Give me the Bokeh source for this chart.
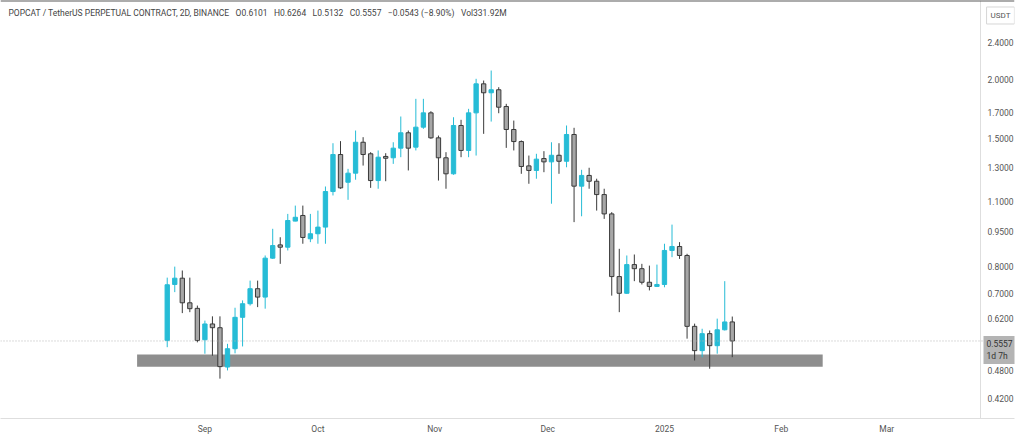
import pandas as pd
from bokeh.plotting import figure
from bokeh.models import FixedTicker, NumeralTickFormatter, Label, Span, Range1d, CustomJSTickFormatter, ColumnDataSource
from bokeh.embed import file_html
from bokeh.resources import INLINE

# ---------------- data ----------------
start_date = "2024-08-22"   # first 2D bar
bar_step_days = 2
opens = [0.557, 0.733, 0.756, 0.670, 0.652, 0.559, 0.604, 0.593, 0.489, 0.535,
         0.624, 0.667, 0.718, 0.689, 0.834, 0.890, 0.880, 1.000, 1.028, 0.917,
         0.940, 0.971, 1.156, 1.386, 1.210, 1.265, 1.472, 1.391, 1.220, 1.373,
         1.364, 1.430, 1.542, 1.437, 1.585, 1.700, 1.504, 1.364, 1.261, 1.598,
         1.414, 1.700, 1.960, 1.876, 1.904, 1.754, 1.567, 1.477, 1.311, 1.282,
         1.359, 1.337, 1.381, 1.341, 1.529, 1.187, 1.251, 1.216, 1.139, 1.036,
         0.762, 0.702, 0.808, 0.792, 0.741, 0.726, 0.733, 0.866, 0.883, 0.845,
         0.597, 0.530, 0.576, 0.543, 0.587, 0.6101]
highs = [0.758, 0.800, 0.785, 0.758, 0.661, 0.614, 0.627, 0.627, 0.548, 0.654,
         0.678, 0.747, 0.747, 0.845, 0.963, 0.924, 1.036, 1.079, 1.079, 1.036,
         1.053, 1.185, 1.465, 1.480, 1.292, 1.559, 1.509, 1.402, 1.414, 1.395,
         1.472, 1.670, 1.559, 1.821, 1.821, 1.714, 1.521, 1.402, 1.664, 1.643,
         1.734, 2.009, 1.992, 2.092, 1.928, 1.777, 1.637, 1.485, 1.379, 1.391,
         1.409, 1.472, 1.465, 1.598, 1.580, 1.286, 1.299, 1.231, 1.172, 1.045,
         0.873, 0.845, 0.849, 0.811, 0.804, 0.808, 0.895, 0.983, 0.902, 0.852,
         0.605, 0.590, 0.585, 0.620, 0.745, 0.6264]
lows = [0.539, 0.706, 0.637, 0.640, 0.552, 0.522, 0.517, 0.462, 0.481, 0.523,
        0.541, 0.661, 0.656, 0.651, 0.831, 0.811, 0.866, 0.999, 0.895, 0.902,
        0.895, 0.895, 1.134, 1.172, 1.110, 1.225, 1.313, 1.177, 1.172, 1.216,
        1.324, 1.368, 1.282, 1.414, 1.572, 1.497, 1.220, 1.172, 1.255, 1.368,
        1.368, 1.379, 1.534, 1.629, 1.697, 1.432, 1.414, 1.261, 1.201, 1.231,
        1.271, 1.089, 1.261, 1.302, 0.995, 1.024, 1.172, 1.053, 1.011, 0.694,
        0.640, 0.700, 0.745, 0.733, 0.712, 0.724, 0.723, 0.838, 0.831, 0.562,
        0.505, 0.513, 0.485, 0.522, 0.585, 0.5132]
closes = [0.732, 0.756, 0.670, 0.651, 0.557, 0.604, 0.593, 0.490, 0.535, 0.624,
          0.667, 0.718, 0.689, 0.834, 0.887, 0.880, 1.003, 1.019, 0.923, 0.940,
          0.971, 1.156, 1.386, 1.177, 1.265, 1.472, 1.386, 1.220, 1.368, 1.361,
          1.430, 1.542, 1.430, 1.585, 1.700, 1.504, 1.364, 1.261, 1.598, 1.414,
          1.700, 1.960, 1.876, 1.904, 1.748, 1.567, 1.477, 1.307, 1.282, 1.355,
          1.337, 1.381, 1.341, 1.529, 1.187, 1.251, 1.216, 1.139, 1.036, 0.762,
          0.702, 0.808, 0.792, 0.741, 0.726, 0.733, 0.866, 0.883, 0.845, 0.597,
          0.530, 0.576, 0.543, 0.587, 0.610, 0.5557]

# support zone (grey band)
band_start = "2024-08-14"
band_end = "2025-02-12"
band_low = 0.490
band_high = 0.520

y_ticks = [0.42, 0.48, 0.62, 0.70, 0.80, 0.95, 1.10, 1.30, 1.50, 1.70, 2.00, 2.40]
month_ticks = ["2024-09-01", "2024-10-01", "2024-11-01", "2024-12-01",
               "2025-01-01", "2025-02-01", "2025-03-01"]

header = ("POPCAT / TetherUS PERPETUAL CONTRACT, 2D, BINANCE\u2002 O0.6101\u2002 H0.6264\u2002 "
          "L0.5132\u2002 C0.5557\u2002 \u22120.0543 (\u22128.90%)\u2002 Vol331.92M")
countdown = "1d 7h"
quote_ccy = "USDT"

# ---------------- layout constants ----------------
W, H = 1024, 439
RIGHT_PAD = 10            # side panel kept for the (inward drawn) price scale
FRAME_W = W - RIGHT_PAD   # frame spans the chart pane plus the price-scale strip
PANE_W = 980              # chart pane width (price scale strip to its right)
PX_DAY = 3.767            # horizontal zoom of the chart (px per day)
SEP1_PX = 204.4           # where Sep 1 sits in the pane
Y_LO, Y_HI = 0.380, 2.949

anchor = pd.Timestamp("2024-09-01")
x_start = anchor - pd.Timedelta(days=SEP1_PX / PX_DAY)
x_end = anchor + pd.Timedelta(days=(FRAME_W - SEP1_PX) / PX_DAY)

def x_at_px(px):
    return (anchor + pd.Timedelta(days=(px - SEP1_PX) / PX_DAY)).value / 1e6

# ---------------- build ----------------
dates = pd.date_range(start_date, periods=len(opens), freq=f"{bar_step_days}D")
df = pd.DataFrame({"date": dates, "open": opens, "high": highs, "low": lows, "close": closes})
df["top"] = df[["open", "close"]].max(axis=1)
df["bottom"] = df[["open", "close"]].min(axis=1)
up = ColumnDataSource(df[df.close >= df.open])
down = ColumnDataSource(df[df.close < df.open])

TEAL = "#26bcd6"
GREY_BODY = "#a7a7a7"
DARK = "#3a3a3a"
FONT = "Roboto"

p = figure(width=W, height=H, x_axis_type="datetime", y_axis_type="log",
           y_axis_location="right", output_backend="svg", toolbar_location=None,
           x_range=Range1d(x_start, x_end), y_range=Range1d(Y_LO, Y_HI),
           min_border_left=0, min_border_top=0, min_border_right=RIGHT_PAD,
           min_border_bottom=21)
p.outline_line_color = None
p.background_fill_color = "white"
p.border_fill_color = "white"
p.xgrid.visible = False
p.ygrid.visible = False

# band
p.quad(left=[pd.Timestamp(band_start)], right=[pd.Timestamp(band_end)],
       bottom=[band_low], top=[band_high], fill_color="#8e8e8e", line_color=None)

# current price dotted line
p.add_layout(Span(location=closes[-1], dimension="width", line_color="#b5b5b5",
                  line_dash="1 2", line_width=1))
# separator between chart pane and price scale
p.add_layout(Span(location=x_at_px(PANE_W), dimension="height", line_color="#dedede",
                  line_width=1))
# thin dark edge along the top of the screenshot
p.add_layout(Span(location=Y_HI, dimension="width", line_color="#5a5a5a", line_width=2))

w = pd.Timedelta(days=1.15).total_seconds() * 1000
p.segment(x0="date", y0="high", x1="date", y1="low", source=up, line_color=TEAL, line_width=1)
p.vbar(x="date", width=w, top="top", bottom="bottom", source=up,
       fill_color=TEAL, line_color=TEAL, line_width=1)
p.segment(x0="date", y0="high", x1="date", y1="low", source=down, line_color=DARK, line_width=1)
p.vbar(x="date", width=w, top="top", bottom="bottom", source=down,
       fill_color=GREY_BODY, line_color=DARK, line_width=1)

# axes
ya = p.yaxis[0]
ya.ticker = FixedTicker(ticks=y_ticks)
ya.formatter = NumeralTickFormatter(format="0.0000")
xa = p.xaxis[0]
xa.ticker = FixedTicker(ticks=[pd.Timestamp(t).value / 1e6 for t in month_ticks])
xa.formatter = CustomJSTickFormatter(code="""
    const d = new Date(tick);
    const names = ['Jan','Feb','Mar','Apr','May','Jun','Jul','Aug','Sep','Oct','Nov','Dec'];
    const m = d.getUTCMonth();
    return m == 0 ? String(d.getUTCFullYear()) : names[m];
""")
for a in (ya, xa):
    a.major_tick_line_color = None
    a.minor_tick_line_color = None
    a.major_tick_out = 0
    a.major_tick_in = 0
    a.minor_tick_out = 0
    a.minor_tick_in = 0
    a.major_label_text_font = FONT
    a.major_label_text_font_size = "8.5px"
    a.major_label_text_color = "#555555"
xa.axis_line_color = "#dedede"
ya.axis_line_color = None
ya.major_label_standoff = -(FRAME_W - PANE_W - 7)   # labels drawn in the price-scale strip
xa.major_label_standoff = 5

# header
p.add_layout(Label(x=8, x_units="screen", y=2.78, text=header, text_font=FONT,
                   text_font_size="8.5px", text_color="#444444", text_baseline="middle"))
# USDT box (in the price-scale strip)
p.add_layout(Label(x=x_at_px(PANE_W + 20), y=2.74, text=quote_ccy, text_font=FONT,
                   text_font_size="8px", text_color="#555555", text_baseline="middle",
                   text_align="center", background_fill_color="white",
                   border_line_color="#d6d6d6", padding=4))
# last price box
p.add_layout(Label(x=x_at_px(PANE_W + 3), y=closes[-1], y_offset=5,
                   text=f"{closes[-1]:.4f}\n{countdown}",
                   text_font=FONT, text_font_size="8.5px", text_color="#333333",
                   text_baseline="top", text_align="left", background_fill_color="#b4b4b4",
                   padding=3))

open("out.html", "w").write(file_html(p, INLINE))
